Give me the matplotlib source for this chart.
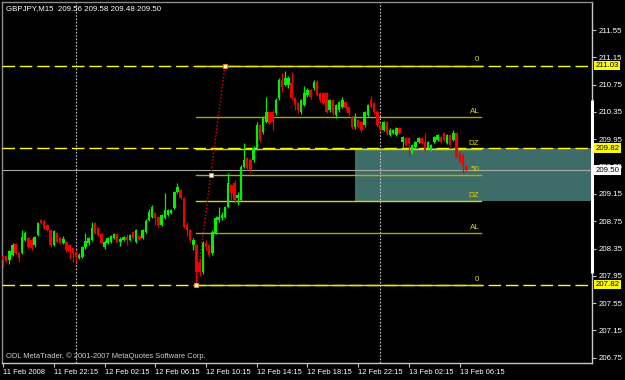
import matplotlib
matplotlib.use("Agg")
import matplotlib.pyplot as plt
import matplotlib.transforms as mtransforms
from matplotlib.patches import Rectangle

# DATA -------------

symbol = "GBPJPY,M15"
last_ohlc = [209.56, 209.58, 209.48, 209.50]
copyright_text = "ODL MetaTrader, \u00a9 2001-2007 MetaQuotes Software Corp."

# OHLC of each 15 minute bar (first bar 11 Feb 18:15)
opens = [208.24, 208.24, 208.18, 208.26, 208.42, 208.29, 208.29, 208.48, 208.50, 208.48,
         208.40, 208.55, 208.77, 208.75, 208.69, 208.62, 208.40, 208.58, 208.50, 208.43,
         208.45, 208.40, 208.36, 208.30, 208.21, 208.23, 208.37, 208.43, 208.48, 208.72,
         208.65, 208.56, 208.37, 208.43, 208.45, 208.50, 208.56, 208.45, 208.48, 208.52,
         208.48, 208.59, 208.45, 208.53, 208.50, 208.59, 208.77, 208.81, 208.87, 208.81,
         208.69, 208.80, 208.84, 208.87, 208.94, 209.18, 209.21, 209.09, 208.69, 208.62,
         208.40, 208.40, 208.15, 208.01, 208.43, 208.40, 208.29, 208.58, 208.77, 208.80,
         208.81, 208.96, 209.28, 209.31, 209.09, 209.06, 209.54, 209.68, 209.65, 209.65,
         209.82, 210.16, 210.06, 210.20, 210.35, 210.35, 210.33, 210.55, 210.82, 210.74,
         210.74, 210.77, 210.55, 210.48, 210.35, 210.45, 210.60, 210.67, 210.70, 210.79,
         210.63, 210.63, 210.63, 210.38, 210.52, 210.31, 210.38, 210.42, 210.50, 210.42,
         210.28, 210.13, 210.23, 210.20, 210.16, 210.31, 210.52, 210.48, 210.35, 210.16,
         210.09, 210.20, 210.01, 210.04, 210.01, 210.12, 209.91, 209.97, 209.97, 209.75,
         209.84, 209.91, 209.97, 209.91, 209.82, 209.79, 209.91, 209.94, 209.98, 210.04,
         209.90, 210.01, 209.94, 210.04, 209.75, 209.72, 209.56]
highs = [208.26, 208.26, 208.33, 208.43, 208.43, 208.30, 208.62, 208.61, 208.52, 208.50,
         208.53, 208.74, 208.78, 208.77, 208.71, 208.64, 208.62, 208.59, 208.52, 208.53,
         208.46, 208.42, 208.37, 208.33, 208.29, 208.39, 208.58, 208.52, 208.74, 208.74,
         208.67, 208.58, 208.48, 208.52, 208.55, 208.58, 208.58, 208.52, 208.53, 208.56,
         208.56, 208.61, 208.64, 208.55, 208.64, 208.78, 208.93, 208.99, 208.89, 208.83,
         208.86, 209.16, 208.93, 208.93, 209.19, 209.31, 209.22, 209.10, 208.74, 208.64,
         208.50, 208.42, 208.21, 208.46, 208.48, 208.42, 208.62, 208.83, 208.96, 208.89,
         208.97, 209.46, 209.29, 209.35, 209.18, 209.57, 209.90, 209.69, 209.68, 209.85,
         210.20, 210.17, 210.29, 210.57, 210.36, 210.38, 210.55, 210.85, 210.92, 210.95,
         210.88, 210.94, 210.57, 210.50, 210.54, 210.73, 210.70, 210.69, 210.82, 210.82,
         210.64, 210.64, 210.64, 210.54, 210.54, 210.47, 210.51, 210.57, 210.51, 210.44,
         210.29, 210.33, 210.25, 210.22, 210.36, 210.47, 210.58, 210.50, 210.38, 210.17,
         210.22, 210.22, 210.12, 210.10, 210.13, 210.13, 210.00, 209.98, 209.98, 209.88,
         209.92, 209.98, 209.98, 210.04, 209.92, 209.88, 210.00, 210.03, 210.00, 210.06,
         210.03, 210.03, 210.09, 210.06, 209.76, 209.73, 209.58]
lows = [208.07, 208.15, 208.12, 208.24, 208.27, 208.15, 208.27, 208.46, 208.36, 208.33,
        208.37, 208.53, 208.71, 208.64, 208.61, 208.37, 208.39, 208.43, 208.42, 208.42,
        208.30, 208.20, 208.15, 208.15, 208.20, 208.21, 208.34, 208.40, 208.46, 208.56,
        208.53, 208.42, 208.34, 208.42, 208.43, 208.49, 208.43, 208.39, 208.46, 208.40,
        208.46, 208.49, 208.43, 208.48, 208.49, 208.58, 208.75, 208.80, 208.69, 208.66,
        208.68, 208.78, 208.83, 208.86, 208.93, 209.16, 209.08, 208.65, 208.53, 208.45,
        208.33, 207.82, 207.95, 207.98, 208.33, 208.23, 208.26, 208.56, 208.74, 208.77,
        208.80, 208.94, 209.06, 209.02, 208.99, 209.05, 209.53, 209.50, 209.47, 209.62,
        209.79, 209.91, 210.03, 210.19, 210.17, 210.09, 210.31, 210.52, 210.64, 210.73,
        210.70, 210.52, 210.38, 210.33, 210.32, 210.44, 210.57, 210.54, 210.67, 210.58,
        210.50, 210.45, 210.33, 210.35, 210.31, 210.26, 210.35, 210.41, 210.38, 210.31,
        210.10, 210.10, 210.12, 210.06, 210.13, 210.28, 210.41, 210.32, 210.13, 210.07,
        210.07, 210.01, 210.00, 210.03, 210.00, 210.03, 209.82, 209.85, 209.72, 209.73,
        209.82, 209.90, 209.88, 209.78, 209.81, 209.78, 209.90, 209.92, 209.90, 209.92,
        209.88, 209.85, 209.92, 209.68, 209.60, 209.46, 209.48]
closes = [208.18, 208.17, 208.31, 208.40, 208.29, 208.21, 208.52, 208.58, 208.37, 208.36,
          208.52, 208.72, 208.72, 208.65, 208.62, 208.40, 208.61, 208.45, 208.43, 208.49,
          208.33, 208.30, 208.29, 208.23, 208.26, 208.37, 208.46, 208.50, 208.65, 208.58,
          208.55, 208.43, 208.45, 208.50, 208.53, 208.56, 208.45, 208.49, 208.52, 208.48,
          208.55, 208.50, 208.62, 208.49, 208.62, 208.75, 208.89, 208.96, 208.80, 208.69,
          208.84, 208.91, 208.91, 208.91, 209.18, 209.25, 209.09, 208.67, 208.62, 208.48,
          208.48, 208.01, 208.01, 208.43, 208.37, 208.26, 208.59, 208.80, 208.81, 208.84,
          208.96, 209.31, 209.16, 209.06, 209.13, 209.54, 209.65, 209.53, 209.50, 209.82,
          210.16, 209.94, 210.26, 210.35, 210.19, 210.20, 210.52, 210.82, 210.72, 210.85,
          210.85, 210.55, 210.45, 210.38, 210.52, 210.63, 210.67, 210.57, 210.79, 210.60,
          210.52, 210.48, 210.35, 210.52, 210.33, 210.45, 210.50, 210.52, 210.41, 210.33,
          210.13, 210.28, 210.13, 210.09, 210.35, 210.45, 210.42, 210.35, 210.16, 210.09,
          210.20, 210.04, 210.09, 210.09, 210.12, 210.04, 209.98, 209.87, 209.90, 209.87,
          209.91, 209.97, 209.90, 209.79, 209.91, 209.87, 209.98, 210.01, 209.91, 209.94,
          210.01, 209.87, 210.04, 209.69, 209.62, 209.57, 209.50]

time_labels = ["11 Feb 2008", "11 Feb 22:15", "12 Feb 02:15", "12 Feb 06:15", "12 Feb 10:15",
               "12 Feb 14:15", "12 Feb 18:15", "12 Feb 22:15", "13 Feb 02:15", "13 Feb 06:15"]
time_label_bars = [0, 16, 32, 48, 64, 80, 96, 112, 128, 144]
day_separator_bars = [23, 119]

price_ticks = [211.55, 211.15, 210.75, 210.35, 209.95, 209.55, 209.15,
               208.75, 208.35, 207.95, 207.55, 207.15, 206.75]

# horizontal lines and the bid line
hline_prices = [211.03, 209.82, 207.82]
bid_price = 209.50

# fibonacci retracement: anchors (bar, price) and its levels
fib_bars = [61, 70]
fib_prices = [207.82, 211.03]
fib_levels = [0.0, 0.236, 0.382, 0.5, 0.618, 0.764, 1.0]
fib_names = ["0", "AL", "DZ", "50", "DZ", "AL", "0"]
fib_end_bar = 150.7

# shaded zone
zone_start_bar = 111
zone_prices = [209.04, 209.82]

# scroll marker on the price scale
scroll_marker = [210.52, 207.99]

# COLORS -----------
bg = "#000000"
up_col = "#00f000"
down_col = "#f00000"
frame_col = "#8c8c8c"
yellow = "#ffff00"
fib_cols = ["#e6e600", "#a8a800", "#d8d800", "#b0b000", "#d8d800", "#a8a800", "#e6e600"]
fib_text_col = "#d8d800"
zone_col = "#3e6c69"
bid_col = "#a8a8a8"
sep_col = "#c8c8c8"

font = "Liberation Sans"
fs = 5.4

# view (bars / price) seen in the window
x_view = [-0.32, 185.7]
y_view = [206.674, 211.96]


def draw_candles(ax):
    xs = list(range(len(closes)))
    cols = [up_col if c >= o else down_col for o, c in zip(opens, closes)]
    ax.vlines(xs, lows, highs, colors=cols, linewidth=0.9, zorder=4)
    bottoms = [min(o, c) for o, c in zip(opens, closes)]
    heights = [max(abs(c - o), 0.01) for o, c in zip(opens, closes)]
    ax.bar(xs, heights, bottom=bottoms, width=0.78, color=cols, linewidth=0, zorder=5)


def draw_objects(ax):
    # zone in background
    ax.add_patch(Rectangle((zone_start_bar, zone_prices[0]), 200, zone_prices[1] - zone_prices[0],
                           facecolor=zone_col, edgecolor="none", zorder=1))
    # day separators
    for b in day_separator_bars:
        ax.axvline(b, color=sep_col, linewidth=0.8, linestyle=(0, (1.5, 1.5)), zorder=2)
    # horizontal lines
    for p in hline_prices:
        ax.axhline(p, color=yellow, linewidth=1.0, linestyle=(0, (9, 3.5)), zorder=3)
    ax.axhline(bid_price, color=bid_col, linewidth=0.8, zorder=3)

    # fibonacci
    lo, hi = fib_prices
    for lev, name, col in zip(fib_levels, fib_names, fib_cols):
        p = hi - lev * (hi - lo)
        ax.plot([fib_bars[0], fib_end_bar], [p, p], color=col, linewidth=1.0, zorder=3)
        ax.text(fib_end_bar - 0.5, p + 0.03, name, color=fib_text_col, fontsize=fs + 0.4,
                family=font, ha="right", va="bottom", zorder=6)
    ax.plot(fib_bars, fib_prices, color=down_col, linewidth=1.0,
            linestyle=(0, (1, 1.5)), zorder=6)
    mid_x = (fib_bars[0] + fib_bars[1]) / 2
    mid_y = (fib_prices[0] + fib_prices[1]) / 2
    ax.plot([fib_bars[0], mid_x, fib_bars[1]], [fib_prices[0], mid_y, fib_prices[1]],
            linestyle="none", marker="s", markersize=2.6, markerfacecolor="#fff8e0",
            markeredgecolor="#ff8c00", markeredgewidth=0.6, zorder=7)


def decorate(ax):
    ax.set_xlim(*x_view)
    ax.set_ylim(*y_view)
    ax.set_facecolor(bg)
    for s in ax.spines.values():
        s.set_color(frame_col)
        s.set_linewidth(1.0)
    ax.spines["right"].set_color("#c8c8c8")
    ax.spines["bottom"].set_color("#c8c8c8")

    ax.yaxis.tick_right()
    ax.set_yticks(price_ticks)
    ax.set_yticklabels(["%.2f" % p for p in price_ticks])
    ax.tick_params(axis="y", colors="#c8c8c8", labelcolor="white", length=3, width=0.8,
                   pad=1.5, labelsize=fs + 0.3)
    ax.set_xticks(time_label_bars)
    ax.set_xticklabels(time_labels)
    ax.tick_params(axis="x", colors="#c8c8c8", labelcolor="white", length=3, width=0.8,
                   pad=1.0, labelsize=fs)
    for lab in ax.get_xticklabels() + ax.get_yticklabels():
        lab.set_family(font)
    for lab in ax.get_xticklabels():
        lab.set_ha("left")

    # highlighted price labels on the scale
    tr = mtransforms.blended_transform_factory(ax.transAxes, ax.transData)
    for p in hline_prices:
        ax.text(1.006, p, "%.2f" % p, transform=tr, color="black", fontsize=fs + 0.3,
                family=font, va="center", ha="left", clip_on=False, zorder=10,
                bbox=dict(boxstyle="square,pad=0.15", facecolor=yellow, edgecolor="none"))
    ax.text(1.006, bid_price, "%.2f" % bid_price, transform=tr, color="black",
            fontsize=fs + 0.3, family=font, va="center", ha="left", clip_on=False, zorder=10,
            bbox=dict(boxstyle="square,pad=0.15", facecolor="white", edgecolor="none"))
    ax.plot([1.0, 1.0], scroll_marker, transform=tr, color="white", linewidth=2.2,
            clip_on=False, zorder=9, solid_capstyle="butt")

    header = symbol + "  " + " ".join("%.2f" % v for v in last_ohlc)
    ax.text(0.006, 0.992, header, transform=ax.transAxes, color="white", fontsize=fs + 0.3,
            family=font, va="top", ha="left", zorder=10)
    ax.text(0.006, 0.018, copyright_text, transform=ax.transAxes, color="#d0d0d0",
            fontsize=fs, family=font, va="center", ha="left", zorder=10)


def main():
    fig = plt.figure(figsize=(6.25, 3.8), dpi=100, facecolor=bg)
    ax = fig.add_axes([2 / 625, 17 / 380, 590 / 625, 361 / 380])
    draw_objects(ax)
    draw_candles(ax)
    decorate(ax)
    fig.savefig("out.png", dpi=100, facecolor=bg)


if __name__ == "__main__":
    main()
